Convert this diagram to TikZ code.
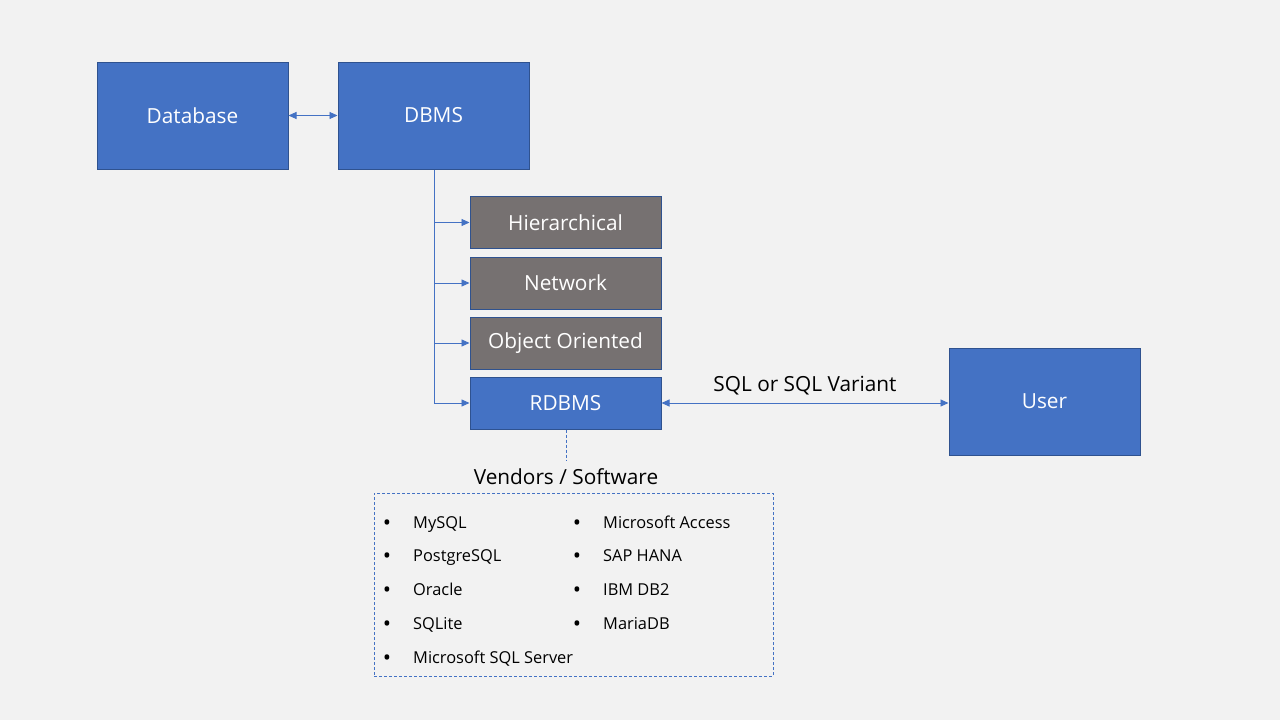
\documentclass[tikz,border=0pt]{standalone}
\usepackage{fontspec}
\setmainfont{Open Sans}
\usetikzlibrary{arrows.meta}
\definecolor{bg}{HTML}{F2F2F2}
\definecolor{blu}{HTML}{4472C4}
\definecolor{bord}{HTML}{2F528F}
\definecolor{gry}{HTML}{767171}
\definecolor{lne}{HTML}{4472C4}
\begin{document}
\begin{tikzpicture}[x=1pt,y=-1pt,
  bigbox/.style={draw=bord,line width=1pt,fill=blu,text=white,minimum width=191pt,minimum height=107pt,inner sep=0pt,font=\fontsize{20.8}{24}\selectfont},
  subbox/.style={draw=bord,line width=1pt,fill=gry,text=white,minimum width=191pt,minimum height=52pt,inner sep=0pt,font=\fontsize{20.8}{24}\selectfont},
  conn/.style={draw=lne,line width=0.9pt},
  tip/.style={-{Triangle[length=8pt,width=7pt]}},
  dtip/.style={{Triangle[length=8pt,width=7pt]}-{Triangle[length=8pt,width=7pt]}},
  item/.style={anchor=base west,inner sep=0pt,font=\fontsize{16.4}{19}\selectfont},
  bul/.style={anchor=base,inner sep=0pt,font=\fontsize{22}{24}\selectfont}]
\fill[bg] (0,0) rectangle (1280,720);
\useasboundingbox (0,0) rectangle (1280,720);
\node[bigbox] (db) at (192.5,115.5) {Database};
\node[bigbox] (dbms) at (433.5,115.5) {DBMS};
\node[subbox] (hier) at (565.5,222.5) {Hierarchical};
\node[subbox] (net) at (565.5,283) {Network};
\node[subbox] (oo) at (565.5,343) {Object Oriented};
\node[subbox,fill=blu] (rdbms) at (565.5,403) {RDBMS};
\node[bigbox] (user) at (1044.5,401.5) {User};
\draw[conn,dtip] (db.east) -- (dbms.west);
\coordinate (trunk) at (434,403);
\draw[conn] (dbms.south -| trunk) -- (trunk);
\draw[conn,tip] (trunk |- hier) -- (hier.west);
\draw[conn,tip] (trunk |- net) -- (net.west);
\draw[conn,tip] (trunk |- oo) -- (oo.west);
\draw[conn,tip] (trunk) -- (rdbms.west);
\draw[conn,dtip] (rdbms.east) -- (user.west |- rdbms.east)
  node[midway,above=4pt,text=black,font=\fontsize{20.8}{24}\selectfont] (sql) {SQL or SQL Variant};
\node[text=black,font=\fontsize{20.8}{24}\selectfont,inner sep=0pt] (vend) at (566,477) {Vendors / Software};
\coordinate (dashend) at (566,460);
\draw[draw=lne,line width=0.8pt,dash pattern=on 3pt off 2pt] (rdbms.south -| dashend) -- (dashend);
\node[draw=lne,line width=0.8pt,dash pattern=on 3pt off 2pt,minimum width=399pt,minimum height=183pt,inner sep=0pt] (list) at (573.5,584.5) {};
\foreach \t [count=\i] in {MySQL,PostgreSQL,Oracle,SQLite,Microsoft SQL Server}{
  \pgfmathsetmacro{\yy}{528+(\i-1)*33.75}
  \node[bul] (ba\i) at (387,\yy+2) {•};
  \node[item] (ta\i) at (413,\yy) {\t};
}
\foreach \t [count=\i] in {Microsoft Access,SAP HANA,IBM DB2,MariaDB}{
  \pgfmathsetmacro{\yy}{528+(\i-1)*33.75}
  \node[bul] (bb\i) at (577,\yy+2) {•};
  \node[item] (tb\i) at (603,\yy) {\t};
}
\end{tikzpicture}
\end{document}
